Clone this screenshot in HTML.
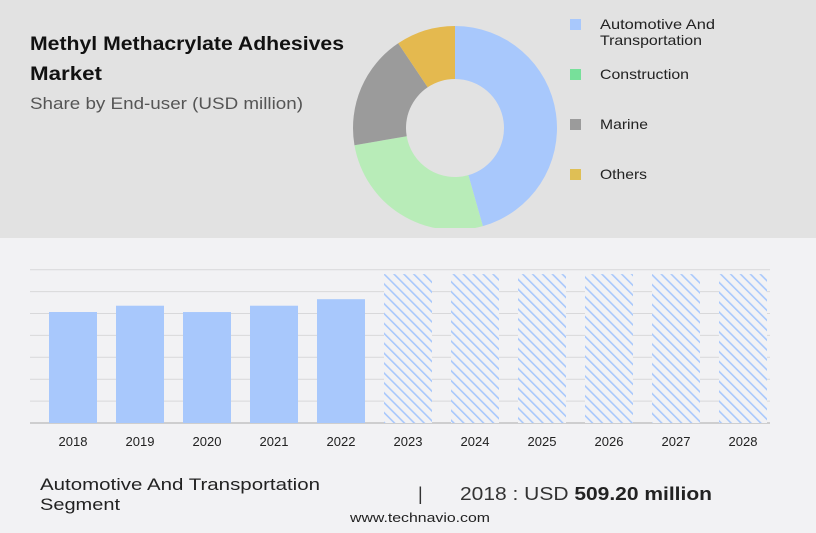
<!DOCTYPE html>
<html><head><meta charset="utf-8"><style>
body{margin:0;width:816px;height:528px;overflow:hidden;background:#f2f2f4;font-family:"Liberation Sans",sans-serif}
svg text{font-family:"Liberation Sans",sans-serif}
</style></head><body>
<svg width="816" height="528" viewBox="0 0 816 528">
<defs>
<pattern id="hatch" width="7" height="7" patternUnits="userSpaceOnUse" patternTransform="rotate(-45)">
<rect width="7" height="7" fill="#f2f2f4"/><rect x="0" y="0" width="1.6" height="7" fill="#a8c8fc"/>
</pattern>
<clipPath id="topclip"><rect x="0" y="0" width="816" height="228"/></clipPath>
</defs>
<rect x="0" y="0" width="816" height="238" fill="#e2e2e2"/>
<text x="30" y="50" font-size="19" font-weight="bold" fill="#111" textLength="314" lengthAdjust="spacingAndGlyphs">Methyl Methacrylate Adhesives</text>
<text x="30" y="80" font-size="19" font-weight="bold" fill="#111" textLength="72" lengthAdjust="spacingAndGlyphs">Market</text>
<text x="30" y="109" font-size="17" fill="#555" textLength="273" lengthAdjust="spacingAndGlyphs">Share by End-user (USD million)</text>
<g id="donut" clip-path="url(#topclip)"></g>
<g id="legend"></g>
<g id="grid"></g>
<g id="bars"></g>
<text x="40" y="490" font-size="17" fill="#222" textLength="280" lengthAdjust="spacingAndGlyphs">Automotive And Transportation</text>
<text x="40" y="510" font-size="17" fill="#222" textLength="80" lengthAdjust="spacingAndGlyphs">Segment</text>
<text x="418" y="500" font-size="18" fill="#333">|</text>
<text x="460" y="500" font-size="18" fill="#333" textLength="252" lengthAdjust="spacingAndGlyphs">2018 : USD <tspan font-weight="bold" fill="#222">509.20 million</tspan></text>
<text x="350" y="522" font-size="13" fill="#222" textLength="140" lengthAdjust="spacingAndGlyphs">www.technavio.com</text>
</svg>
<script>
const segLabels=["Automotive And Transportation","Construction","Marine","Others"];
const segShares=[45.6,26.7,18.3,9.4];
const segColors=["#a8c8fc","#b8ecb8","#9b9b9b","#e4b94f"];
const legColors=["#a8c8fc","#77e09a","#9b9b9b","#dfbf55"];
const years=["2018","2019","2020","2021","2022","2023","2024","2025","2026","2027","2028"];
const histValues=[509.2,538,509,538,568];
const forecastValues=[683,683,683,683,683,683];
const NS="http://www.w3.org/2000/svg";
function mk(t,a,p){const e=document.createElementNS(NS,t);for(const k in a)e.setAttribute(k,a[k]);p.appendChild(e);return e;}
const cx=455,cy=128,R=102,r=49;const dg=document.getElementById('donut');
const tot=segShares.reduce((a,b)=>a+b,0);let a0=0;
segShares.forEach((v,i)=>{const a1=a0+v/tot*2*Math.PI;
 const p=(ang,rad)=>[cx+rad*Math.sin(ang),cy-rad*Math.cos(ang)];
 const [x1,y1]=p(a0,R),[x2,y2]=p(a1,R),[x3,y3]=p(a1,r),[x4,y4]=p(a0,r);const lg=(a1-a0)>Math.PI?1:0;
 const e=mk('path',{d:`M${x1},${y1}A${R},${R} 0 ${lg} 1 ${x2},${y2}L${x3},${y3}A${r},${r} 0 ${lg} 0 ${x4},${y4}Z`,fill:segColors[i]},dg);
 
 
 a0=a1;});
const lg=document.getElementById('legend');
const legY=[24,74,124,174];
const legW=[115,89,48,47];
segLabels.forEach((s,i)=>{
 const rc=mk('rect',{x:570,y:legY[i]-5,width:11,height:11,fill:legColors[i]},lg);
 
 
 const t=mk('text',{x:600,y:legY[i]+5,'font-size':14,fill:'#222',textLength:legW[i],lengthAdjust:'spacingAndGlyphs'},lg);
 
 
 if(i===0){t.textContent='Automotive And';const t2=mk('text',{x:600,y:legY[i]+21,'font-size':14,fill:'#222',textLength:102,lengthAdjust:'spacingAndGlyphs'},lg);t2.textContent='Transportation';
  
  }
 else t.textContent=s;});
const base=423,scale=111/509.2,x0=49,step=67,bw=48;
const yPx=v=>base-v*scale;
const gg=document.getElementById('grid');
for(let k=0;k<8;k++){const y=base-k*21.9;const l=mk('line',{x1:30,x2:770,y1:y,y2:y,stroke:k===0?'#aaa':'#d8d8da','stroke-width':1},gg);
 
 }
const bg=document.getElementById('bars');
years.forEach((yr,i)=>{const x=x0+i*step;let v,fill;
 if(i<histValues.length){v=histValues[i];fill='#a8c8fc';}else{v=forecastValues[i-histValues.length];fill='url(#hatch)';}
 const b=mk('rect',{x:x,y:yPx(v),width:bw,height:base-yPx(v),fill:fill},bg);
 
 
 const t=mk('text',{x:x+bw/2,y:446,'font-size':13,fill:'#222','text-anchor':'middle'},bg);t.textContent=yr;
 
 });
</script>
</body></html>
